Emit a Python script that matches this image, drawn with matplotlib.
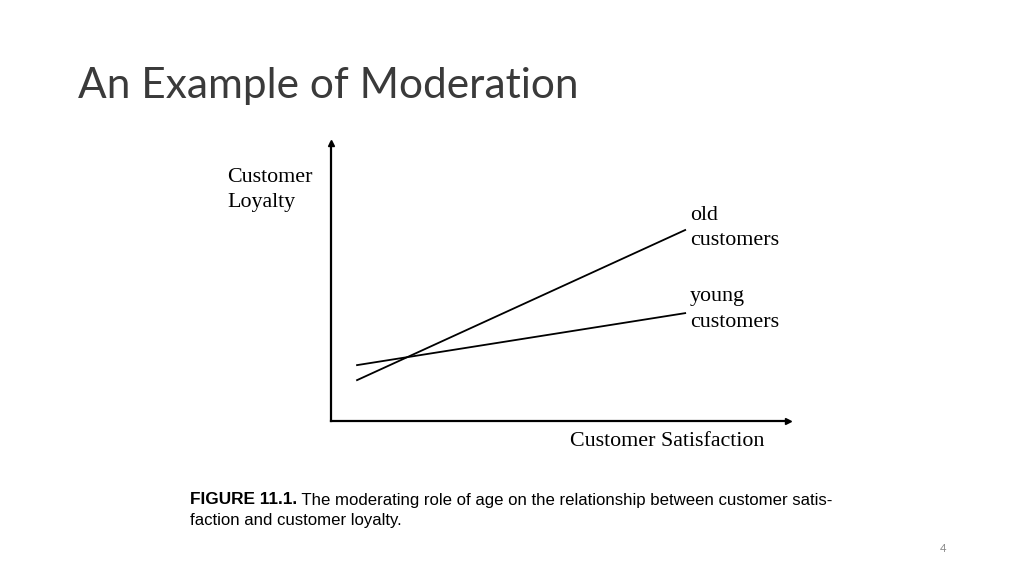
import matplotlib.pyplot as plt

# values (axis units 0-10)
satisfaction = [0.57, 7.75]
old_loyalty = [1.47, 6.87]
young_loyalty = [2.01, 3.88]
group_labels = ['old\ncustomers', 'young\ncustomers']

W, H = 1024, 576
fig = plt.figure(figsize=(W / 100, H / 100), dpi=100)
fig.patch.set_facecolor('white')

# slide title
fig.text(78 / W, 1 - 86 / H, 'An Example of Moderation', family='Lato',
         fontsize=30.5, color='#3a3a3a', va='center')

# axes of the sketch
ax = fig.add_axes([331 / W, 1 - 421 / H, (788 - 331) / W, (421 - 143) / H])
ax.set_xlim(0, 10)
ax.set_ylim(0, 10)
for s in ['top', 'right']:
    ax.spines[s].set_visible(False)
for s in ['left', 'bottom']:
    ax.spines[s].set_linewidth(1.6)
ax.set_xticks([])
ax.set_yticks([])
ax.patch.set_alpha(0)
ax.plot(1, 0, '>k', ms=5, transform=ax.transAxes, clip_on=False)
ax.plot(0, 1, '^k', ms=5, transform=ax.transAxes, clip_on=False)

ax.plot(satisfaction, old_loyalty, color='black', lw=1.3)
ax.plot(satisfaction, young_loyalty, color='black', lw=1.3)

serif = 'Liberation Serif'
fs = 15.8
ax.text(satisfaction[1] + 0.1, old_loyalty[1] + 0.06, group_labels[0],
        family=serif, fontsize=fs, va='center', ha='left', linespacing=1.45)
ax.text(satisfaction[1] + 0.1, young_loyalty[1] + 0.13, group_labels[1],
        family=serif, fontsize=fs, va='center', ha='left', linespacing=1.45)

fig.text(227 / W, 1 - 190 / H, 'Customer\nLoyalty', family=serif, fontsize=fs,
         va='center', ha='left', linespacing=1.45)
fig.text(764 / W, 1 - 441 / H, 'Customer Satisfaction', family=serif,
         fontsize=fs, va='center', ha='right')

# caption
cap = fig.text(190 / W, 1 - 500 / H, 'FIGURE 11.1.', family='Liberation Sans',
               fontweight='bold', fontsize=12.4, va='center')
ax.annotate(' The moderating role of age on the relationship between customer satis-',
            xy=(1, 0.5), xycoords=cap, va='center', ha='left',
            family='Liberation Sans', fontsize=12.1)
fig.text(190 / W, 1 - 521 / H, 'faction and customer loyalty.',
         family='Liberation Sans', fontsize=12.1, va='center')

fig.text(943 / W, 1 - 549 / H, '4', family='Lato', fontsize=8, color='#8a8a8a',
         va='center', ha='center')

fig.savefig('out.png', dpi=100)
